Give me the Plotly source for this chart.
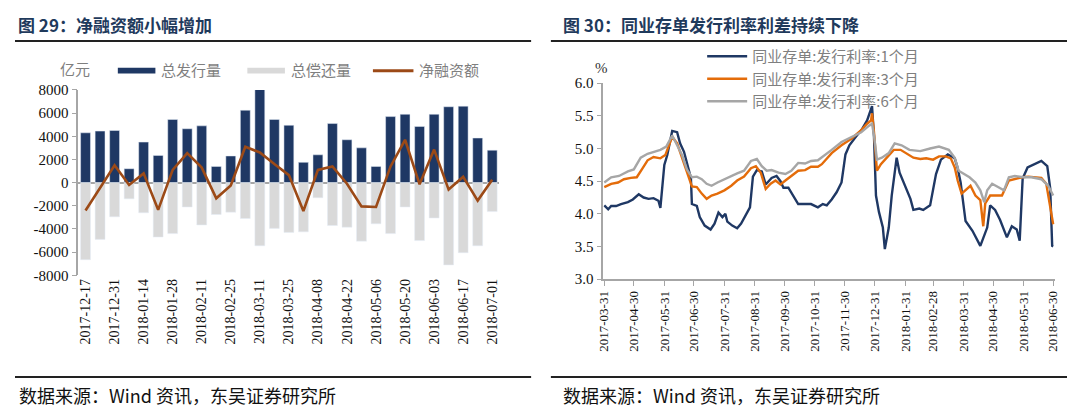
import plotly.graph_objects as go

# ---- left chart: weekly CD issuance / repayment (亿元) ----
weeks = ['2017-12-17', '2017-12-24', '2017-12-31', '2018-01-07', '2018-01-14', '2018-01-21',
         '2018-01-28', '2018-02-04', '2018-02-11', '2018-02-18', '2018-02-25', '2018-03-04',
         '2018-03-11', '2018-03-18', '2018-03-25', '2018-04-01', '2018-04-08', '2018-04-15',
         '2018-04-22', '2018-04-29', '2018-05-06', '2018-05-13', '2018-05-20', '2018-05-27',
         '2018-06-03', '2018-06-10', '2018-06-17', '2018-06-24', '2018-07-01']
issue = [4300, 4450, 4500, 1200, 3500, 2350, 5450, 4650, 4900, 1400, 2300, 6250, 8050, 5450, 4950,
         1750, 2400, 5100, 3700, 3000, 1400, 5700, 5900, 4850, 5900, 6550, 6600, 3850, 2800]
repay = [-6650, -4900, -2950, -1400, -2600, -4700, -4400, -2100, -3650, -2750, -2550, -3100, -5450,
         -3950, -4300, -4250, -1300, -3700, -3850, -5050, -3550, -4400, -2100, -5000, -3050, -7100,
         -6050, -5450, -2500]
net = [-2400, -450, 1500, -200, 800, -2350, 1100, 2550, 1300, -1350, -250, 3100, 2600, 1600, 650,
       -2450, 1100, 1400, -100, -2050, -2100, 1400, 3700, -150, 2850, -600, 500, -1550, 250]
left_yticks = [-8000, -6000, -4000, -2000, 0, 2000, 4000, 6000, 8000]
left_ylabels = ['-8000', '-6000', '-4000', '-2000', '0', '2000', '4000', '6000', '8000']

# ---- right chart: CD issuance rates (%) ----
m1_dates = ['2017-03-31', '2017-04-04', '2017-04-07', '2017-04-12', '2017-04-17', '2017-04-24',
            '2017-04-29', '2017-05-05', '2017-05-10', '2017-05-15', '2017-05-20', '2017-05-25',
            '2017-05-27', '2017-05-29', '2017-05-31', '2017-06-03', '2017-06-08', '2017-06-13',
            '2017-06-16', '2017-06-20', '2017-06-24', '2017-06-27', '2017-06-28', '2017-07-03',
            '2017-07-06', '2017-07-11', '2017-07-17', '2017-07-21', '2017-07-25', '2017-07-29',
            '2017-08-01', '2017-08-03', '2017-08-08', '2017-08-13', '2017-08-17', '2017-08-22',
            '2017-08-26', '2017-08-29', '2017-09-02', '2017-09-07', '2017-09-11', '2017-09-17',
            '2017-09-22', '2017-09-26', '2017-09-29', '2017-10-04', '2017-10-11', '2017-10-14',
            '2017-10-21', '2017-10-27', '2017-11-03', '2017-11-08', '2017-11-12', '2017-11-17',
            '2017-11-22', '2017-11-27', '2017-12-01', '2017-12-05', '2017-12-10', '2017-12-18',
            '2017-12-23', '2017-12-28', '2017-12-30', '2018-01-01', '2018-01-04', '2018-01-08',
            '2018-01-10', '2018-01-14', '2018-01-17', '2018-01-22', '2018-01-25', '2018-01-31',
            '2018-02-05', '2018-02-08', '2018-02-14', '2018-02-18', '2018-02-25', '2018-03-03',
            '2018-03-08', '2018-03-15', '2018-03-22', '2018-03-25', '2018-03-28', '2018-04-02',
            '2018-04-09', '2018-04-17', '2018-04-24', '2018-04-27', '2018-05-02', '2018-05-07',
            '2018-05-14', '2018-05-19', '2018-05-24', '2018-05-27', '2018-05-30', '2018-06-04',
            '2018-06-11', '2018-06-18', '2018-06-24', '2018-06-27', '2018-06-29', '2018-06-30']
m1_vals = [4.13, 4.07, 4.12, 4.12, 4.15, 4.18, 4.22, 4.30, 4.25, 4.23, 4.24, 4.20,
           4.09, 4.40, 4.75, 4.90, 5.27, 5.25, 5.08, 4.95, 4.70, 4.55, 4.15, 4.12,
           3.95, 3.82, 3.76, 3.85, 4.02, 3.95, 4.00, 3.88, 3.82, 3.78, 3.85, 4.00,
           4.10, 4.57, 4.67, 4.65, 4.45, 4.55, 4.58, 4.50, 4.40, 4.40, 4.22, 4.15,
           4.15, 4.15, 4.10, 4.15, 4.13, 4.22, 4.33, 4.48, 4.91, 5.05, 5.15, 5.30,
           5.43, 5.65, 5.18, 4.28, 4.03, 3.79, 3.46, 3.79, 4.28, 4.86, 4.63, 4.41,
           4.23, 4.06, 4.08, 4.06, 4.13, 4.61, 4.83, 4.91, 4.85, 4.70, 4.48, 3.89,
           3.74, 3.51, 3.79, 4.13, 4.06, 3.91, 3.64, 3.81, 3.76, 3.59, 4.54, 4.71,
           4.76, 4.81, 4.73, 4.39, 3.51, 3.50]

m3_dates = ['2017-03-31', '2017-04-07', '2017-04-14', '2017-04-20', '2017-04-27', '2017-05-03',
            '2017-05-09', '2017-05-14', '2017-05-20', '2017-05-27', '2017-06-01', '2017-06-08',
            '2017-06-13', '2017-06-18', '2017-06-23', '2017-06-28', '2017-07-03', '2017-07-08',
            '2017-07-13', '2017-07-18', '2017-07-24', '2017-07-31', '2017-08-07', '2017-08-13',
            '2017-08-20', '2017-08-27', '2017-09-01', '2017-09-06', '2017-09-11', '2017-09-16',
            '2017-09-21', '2017-09-26', '2017-10-01', '2017-10-07', '2017-10-14', '2017-10-21',
            '2017-10-27', '2017-11-03', '2017-11-07', '2017-11-17', '2017-11-27', '2017-12-07',
            '2017-12-17', '2017-12-23', '2017-12-27', '2017-12-28', '2017-12-30', '2018-01-02',
            '2018-01-06', '2018-01-12', '2018-01-19', '2018-01-26', '2018-02-01', '2018-02-08',
            '2018-02-15', '2018-02-21', '2018-02-28', '2018-03-06', '2018-03-13', '2018-03-18',
            '2018-03-22', '2018-03-25', '2018-03-29', '2018-04-02', '2018-04-07', '2018-04-12',
            '2018-04-17', '2018-04-20', '2018-04-22', '2018-04-27', '2018-05-02', '2018-05-09',
            '2018-05-16', '2018-05-22', '2018-05-29', '2018-06-05', '2018-06-11', '2018-06-18',
            '2018-06-23', '2018-06-26', '2018-06-30']
m3_vals = [4.41, 4.46, 4.48, 4.53, 4.55, 4.56, 4.70, 4.82, 4.87, 4.85, 4.90, 5.18,
           5.08, 4.86, 4.63, 4.42, 4.41, 4.31, 4.23, 4.28, 4.31, 4.36, 4.43, 4.51,
           4.57, 4.70, 4.73, 4.63, 4.38, 4.46, 4.51, 4.45, 4.51, 4.58, 4.66, 4.67,
           4.72, 4.72, 4.76, 4.93, 5.05, 5.15, 5.28, 5.38, 5.43, 5.54, 5.25, 4.66,
           4.76, 4.86, 4.98, 4.98, 4.93, 4.86, 4.84, 4.85, 4.83, 4.88, 4.88, 4.85,
           4.71, 4.51, 4.31, 4.36, 4.43, 4.28, 4.21, 3.81, 4.16, 4.28, 4.28, 4.28,
           4.51, 4.53, 4.56, 4.57, 4.56, 4.55, 4.46, 4.21, 3.84]

m6_dates = ['2017-03-31', '2017-04-07', '2017-04-15', '2017-04-24', '2017-04-30', '2017-05-07',
            '2017-05-14', '2017-05-20', '2017-05-27', '2017-06-02', '2017-06-08', '2017-06-13',
            '2017-06-18', '2017-06-23', '2017-06-28', '2017-07-03', '2017-07-08', '2017-07-13',
            '2017-07-18', '2017-07-24', '2017-07-31', '2017-08-07', '2017-08-13', '2017-08-20',
            '2017-08-27', '2017-09-02', '2017-09-07', '2017-09-12', '2017-09-17', '2017-09-24',
            '2017-10-01', '2017-10-07', '2017-10-14', '2017-10-21', '2017-10-27', '2017-11-03',
            '2017-11-07', '2017-11-17', '2017-11-27', '2017-12-07', '2017-12-17', '2017-12-25',
            '2017-12-28', '2017-12-30', '2018-01-02', '2018-01-07', '2018-01-14', '2018-01-20',
            '2018-01-27', '2018-02-04', '2018-02-15', '2018-02-25', '2018-03-06', '2018-03-16',
            '2018-03-22', '2018-03-26', '2018-03-31', '2018-04-06', '2018-04-12', '2018-04-17',
            '2018-04-21', '2018-04-24', '2018-04-29', '2018-05-05', '2018-05-11', '2018-05-16',
            '2018-05-22', '2018-05-31', '2018-06-08', '2018-06-18', '2018-06-25', '2018-06-30']
m6_vals = [4.48, 4.56, 4.58, 4.65, 4.68, 4.86, 4.92, 4.95, 4.98, 5.03, 5.20, 5.05,
           4.90, 4.68, 4.56, 4.57, 4.53, 4.46, 4.43, 4.48, 4.53, 4.58, 4.62, 4.66,
           4.81, 4.84, 4.73, 4.66, 4.67, 4.63, 4.61, 4.66, 4.78, 4.77, 4.81, 4.82,
           4.87, 4.98, 5.10, 5.18, 5.25, 5.35, 5.38, 5.20, 4.83, 4.86, 4.93, 5.08,
           5.05, 4.98, 4.96, 5.00, 5.03, 4.98, 4.86, 4.66, 4.61, 4.56, 4.48, 4.36,
           4.18, 4.36, 4.46, 4.41, 4.36, 4.56, 4.58, 4.56, 4.56, 4.53, 4.43, 4.28]

month_ends = ['2017-03-31', '2017-04-30', '2017-05-31', '2017-06-30', '2017-07-31', '2017-08-31',
              '2017-09-30', '2017-10-31', '2017-11-30', '2017-12-31', '2018-01-31', '2018-02-28',
              '2018-03-31', '2018-04-30', '2018-05-31', '2018-06-30']

NAVY = '#1f3864'
GREY_BAR = '#d9d9d9'
BROWN = '#9c4a17'
ORANGE = '#e46c0a'
GREY_LINE = '#a6a6a6'
AXIS = '#a6a6a6'
TITLE_C = '#1f3a5c'
SERIF = 'Liberation Serif'
CJK = 'Noto Sans CJK SC'

# the page body keeps its 8px margin, so the figure is sized to fit inside it
PAD = 8
W, H = 1080 - 2 * PAD, 420 - 2 * PAD


def px(x):
    return (x - PAD) / W


def py(y):
    return 1 - (y - PAD) / H


fig = go.Figure()

fig.add_trace(go.Bar(x=weeks, y=issue, name='总发行量', marker_color=NAVY,
                     xaxis='x', yaxis='y', showlegend=False))
fig.add_trace(go.Bar(x=weeks, y=repay, name='总偿还量', marker_color=GREY_BAR,
                     xaxis='x', yaxis='y', showlegend=False))
fig.add_trace(go.Scatter(x=weeks, y=net, name='净融资额', mode='lines',
                         line=dict(color=BROWN, width=2.6), xaxis='x', yaxis='y',
                         showlegend=False))

fig.add_trace(go.Scatter(x=m1_dates, y=m1_vals, name='同业存单:发行利率:1个月', mode='lines',
                         line=dict(color=NAVY, width=2.4), xaxis='x2', yaxis='y2'))
fig.add_trace(go.Scatter(x=m3_dates, y=m3_vals, name='同业存单:发行利率:3个月', mode='lines',
                         line=dict(color=ORANGE, width=2.4), xaxis='x2', yaxis='y2'))
fig.add_trace(go.Scatter(x=m6_dates, y=m6_vals, name='同业存单:发行利率:6个月', mode='lines',
                         line=dict(color=GREY_LINE, width=2.4), xaxis='x2', yaxis='y2'))

shapes = []
annotations = []

# header / footer rules
for x0, x1 in [(PAD, 530), (550, 1080 - PAD)]:
    shapes.append(dict(type='line', xref='paper', yref='paper', x0=px(x0), x1=px(x1),
                       y0=py(34), y1=py(34), line=dict(color='#222222', width=2)))
    shapes.append(dict(type='line', xref='paper', yref='paper', x0=px(x0), x1=px(x1),
                       y0=py(384), y1=py(384), line=dict(color='#222222', width=2)))

titles = [(10, '图 29：净融资额小幅增加'), (561, '图 30：同业存单发行利率利差持续下降')]
for x, t in titles:
    annotations.append(dict(text='<b>' + t + '</b>', xref='paper', yref='paper', x=px(x), y=py(31),
                            xanchor='left', yanchor='bottom', showarrow=False, borderpad=0,
                            font=dict(family=CJK, size=17, color=TITLE_C)))
for x in [10, 560]:
    annotations.append(dict(text='数据来源：Wind 资讯，东吴证券研究所', xref='paper', yref='paper',
                            x=px(x), y=py(403), xanchor='left', yanchor='middle', showarrow=False,
                            font=dict(family=CJK, size=18, color='#111111')))

# left legend (drawn by hand to get the long thin swatches)
annotations.append(dict(text='亿元', xref='paper', yref='paper', x=px(86), y=py(63),
                        xanchor='right', yanchor='middle', showarrow=False,
                        font=dict(family=CJK, size=15, color='#7f7f7f')))
legend_items = [(112, 150, 'bar', NAVY, '总发行量'),
                (243, 281, 'bar', GREY_BAR, '总偿还量'),
                (370, 411, 'line', BROWN, '净融资额')]
for x0, x1, kind, col, label in legend_items:
    if kind == 'bar':
        shapes.append(dict(type='rect', xref='paper', yref='paper', x0=px(x0), x1=px(x1),
                           y0=py(68), y1=py(62), fillcolor=col, line=dict(width=0)))
    else:
        shapes.append(dict(type='line', xref='paper', yref='paper', x0=px(x0), x1=px(x1),
                           y0=py(65), y1=py(65), line=dict(color=col, width=3)))
    annotations.append(dict(text=label, xref='paper', yref='paper', x=px(x1 + 4), y=py(64),
                            xanchor='left', yanchor='middle', showarrow=False,
                            font=dict(family=CJK, size=15, color='#7f7f7f')))

annotations.append(dict(text='%', xref='paper', yref='paper', x=px(601), y=py(62),
                        xanchor='center', yanchor='middle', showarrow=False,
                        font=dict(family=SERIF, size=15, color='#333333')))

fig.update_layout(
    width=W, height=H,
    margin=dict(l=0, r=0, t=0, b=0),
    paper_bgcolor='white', plot_bgcolor='white',
    barmode='relative', bargap=0.32,
    shapes=shapes, annotations=annotations,
    legend=dict(x=px(703), y=py(33), xanchor='left', yanchor='top',
                font=dict(family=CJK, size=15, color='#7f7f7f'),
                tracegroupgap=0, itemwidth=40, bgcolor='rgba(0,0,0,0)'),
    xaxis=dict(domain=[px(72), px(498)], anchor='y', type='category',
               tickvals=weeks[::2], ticktext=weeks[::2], tickangle=-90,
               showline=False, showgrid=False, ticks='',
               tickfont=dict(family=SERIF, size=14, color='#111111')),
    yaxis=dict(domain=[py(278), py(85)], anchor='x', range=[-8000, 8000],
               tickvals=left_yticks, ticktext=left_ylabels,
               showline=True, linecolor=AXIS, linewidth=1.5, ticks='outside', ticklen=5,
               tickcolor=AXIS, showgrid=False, zeroline=True, zerolinecolor=AXIS,
               zerolinewidth=1.5, tickfont=dict(family=SERIF, size=15, color='#111111')),
    xaxis2=dict(domain=[px(603), px(1060)], anchor='y2', type='date',
                range=['2017-03-30', '2018-07-02'],
                tickvals=month_ends, ticktext=month_ends, tickangle=-90,
                showline=True, linecolor=AXIS, linewidth=1.5, ticks='outside', ticklen=5,
                tickcolor=AXIS, showgrid=False, zeroline=False,
                tickfont=dict(family=SERIF, size=13, color='#111111')),
    yaxis2=dict(domain=[py(282), py(78)], anchor='x2', range=[3.0, 6.0], dtick=0.5,
                tickformat='.1f', showline=True, linecolor=AXIS, linewidth=1.5,
                ticks='outside', ticklen=5, tickcolor=AXIS, showgrid=False, zeroline=False,
                tickfont=dict(family=SERIF, size=15, color='#111111')),
)

fig.write_html("out.html")
